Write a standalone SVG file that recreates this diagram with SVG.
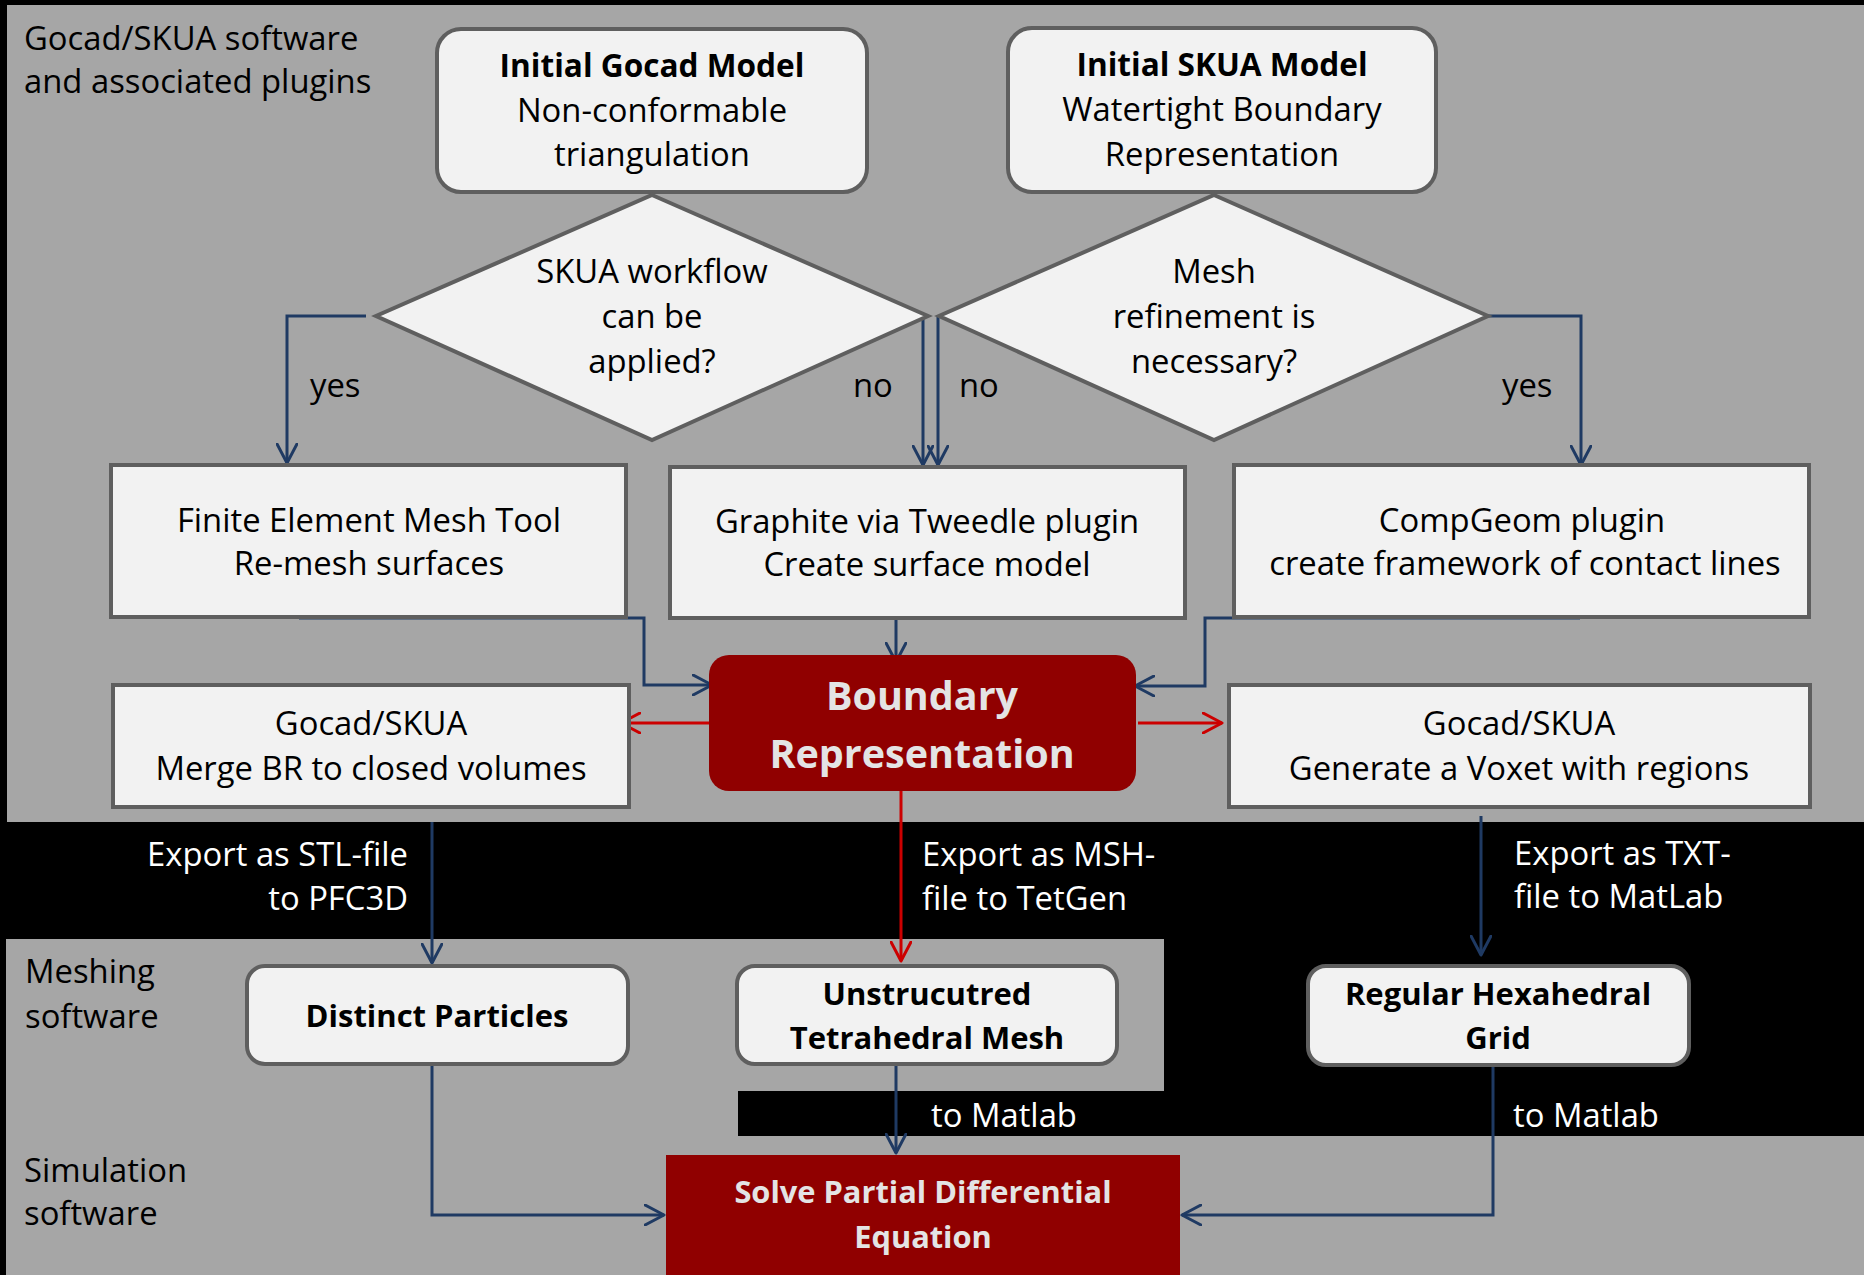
<svg xmlns="http://www.w3.org/2000/svg" width="1864" height="1275" viewBox="0 0 1864 1275">
<style>
text{font-family:"Open Sans","Liberation Sans",sans-serif;font-size:32.8px;fill:#000}
.c{text-anchor:middle}
.b{font-weight:bold;font-size:31px}
.bt{font-size:31.6px}
.w{fill:#fff}
.box{fill:#f2f2f2;stroke:#5f5f5f;stroke-width:4}
.red{fill:#900000}
.lt{fill:#e4e4e4}
.bl{fill:none;stroke:#1f3a63;stroke-width:3;marker-end:url(#ab)}
.rd{fill:none;stroke:#cc0000;stroke-width:3;marker-end:url(#ar)}
</style>
<defs>
<marker id="ab" viewBox="0 0 22 22" refX="20" refY="11" markerWidth="22" markerHeight="22" markerUnits="userSpaceOnUse" orient="auto"><path d="M1,1 L20,11 L1,21" fill="none" stroke="#1f3a63" stroke-width="3" stroke-linecap="round" stroke-linejoin="round"/></marker>
<marker id="ar" viewBox="0 0 22 22" refX="20" refY="11" markerWidth="22" markerHeight="22" markerUnits="userSpaceOnUse" orient="auto"><path d="M1,1 L20,11 L1,21" fill="none" stroke="#cc0000" stroke-width="3" stroke-linecap="round" stroke-linejoin="round"/></marker>
</defs>
<rect x="0" y="0" width="1864" height="1275" fill="#000"/>
<rect x="7" y="5" width="1857" height="817" fill="#a6a6a6"/>
<path d="M6,939 H1164 V1091 H738 V1136 H1864 V1275 H6 Z" fill="#a6a6a6"/>

<g id="labels">
<text x="24" y="50">Gocad/SKUA software</text>
<text x="24" y="93">and associated plugins</text>
<text x="25" y="983">Meshing</text>
<text x="25" y="1028">software</text>
<text x="24" y="1182">Simulation</text>
<text x="24" y="1225">software</text>
<text class="w" x="408" y="866" text-anchor="end">Export as STL-file</text>
<text class="w" x="408" y="910" text-anchor="end">to PFC3D</text>
<text class="w" x="922" y="866">Export as MSH-</text>
<text class="w" x="922" y="910">file to TetGen</text>
<text class="w" x="1514" y="865">Export as TXT-</text>
<text class="w" x="1514" y="908">file to MatLab</text>
<text class="w" x="931" y="1127">to Matlab</text>
<text class="w" x="1513" y="1127">to Matlab</text>
<text x="310" y="397">yes</text>
<text x="853" y="397">no</text>
<text x="959" y="397">no</text>
<text x="1502" y="397">yes</text>
</g>

<g id="connectors">
<path class="bl" d="M366,316 H287 V463"/>
<path class="bl" d="M923,316 V465"/>
<path class="bl" d="M938,316 V465"/>
<path class="bl" d="M1488,316 H1581 V465"/>
<path class="bl" d="M299,618 H644 V685 H712"/>
<path class="bl" d="M896,618 V662"/>
<path class="bl" d="M1580,618 H1205 V686 H1135"/>
<path class="rd" d="M709,723 H621"/>
<path class="rd" d="M1138,723 H1222"/>
<path class="rd" d="M901,790 V961"/>
<path class="bl" d="M432,822 V963"/>
<path class="bl" d="M1481,816 V955"/>
<path class="bl" d="M432,1064 V1215 H664"/>
<path class="bl" d="M896,1064 V1153"/>
<path class="bl" d="M1493,1065 V1215 H1182"/>
</g>

<g id="initial-gocad">
<rect class="box" x="437" y="29" width="430" height="163" rx="24"/>
<text class="c b bt" x="652" y="77">Initial Gocad Model</text>
<text class="c" x="652" y="122">Non-conformable</text>
<text class="c" x="652" y="166">triangulation</text>
</g>
<g id="initial-skua">
<rect class="box" x="1008" y="28" width="428" height="164" rx="24"/>
<text class="c b bt" x="1222" y="76">Initial SKUA Model</text>
<text class="c" x="1222" y="121">Watertight Boundary</text>
<text class="c" x="1222" y="166">Representation</text>
</g>
<g id="decision-skua">
<polygon class="box" points="652,195 928,316 652,440 376,316"/>
<text class="c" x="652" y="283">SKUA workflow</text>
<text class="c" x="652" y="328">can be</text>
<text class="c" x="652" y="373">applied?</text>
</g>
<g id="decision-refine">
<polygon class="box" points="1214,195 1488,316 1214,440 939,316"/>
<text class="c" x="1214" y="283">Mesh</text>
<text class="c" x="1214" y="328">refinement is</text>
<text class="c" x="1214" y="373">necessary?</text>
</g>
<g id="fem-tool">
<rect class="box" x="111" y="465" width="515" height="152"/>
<text class="c" x="369" y="532">Finite Element Mesh Tool</text>
<text class="c" x="369" y="575">Re-mesh surfaces</text>
</g>
<g id="graphite">
<rect class="box" x="670" y="467" width="515" height="151"/>
<text class="c" x="927" y="533">Graphite via Tweedle plugin</text>
<text class="c" x="927" y="576">Create surface model</text>
</g>
<g id="compgeom">
<rect class="box" x="1234" y="465" width="575" height="152"/>
<text class="c" x="1522" y="532">CompGeom plugin</text>
<text class="c" x="1525" y="575">create framework of contact lines</text>
</g>
<g id="boundary-rep">
<rect class="red" x="709" y="655" width="427" height="136" rx="20"/>
<text class="c b lt" x="922" y="710" style="font-size:39.5px">Boundary</text>
<text class="c b lt" x="922" y="768" style="font-size:39.5px">Representation</text>
</g>
<g id="merge">
<rect class="box" x="113" y="685" width="516" height="122"/>
<text class="c" x="371" y="735">Gocad/SKUA</text>
<text class="c" x="371" y="780">Merge BR to closed volumes</text>
</g>
<g id="voxet">
<rect class="box" x="1229" y="685" width="581" height="122"/>
<text class="c" x="1519" y="735">Gocad/SKUA</text>
<text class="c" x="1519" y="780">Generate a Voxet with regions</text>
</g>
<g id="particles">
<rect class="box" x="247" y="966" width="381" height="98" rx="18"/>
<text class="c b" x="437" y="1027">Distinct Particles</text>
</g>
<g id="tetmesh">
<rect class="box" x="737" y="966" width="380" height="98" rx="18"/>
<text class="c b" x="927" y="1005">Unstrucutred</text>
<text class="c b" x="927" y="1049">Tetrahedral Mesh</text>
</g>
<g id="hexgrid">
<rect class="box" x="1308" y="966" width="381" height="99" rx="18"/>
<text class="c b" x="1498" y="1005">Regular Hexahedral</text>
<text class="c b" x="1498" y="1049">Grid</text>
</g>
<g id="solve-pde">
<rect class="red" x="666" y="1155" width="514" height="125"/>
<text class="c b lt" x="923" y="1203" style="font-size:30.8px">Solve Partial Differential</text>
<text class="c b lt" x="923" y="1248" style="font-size:30.8px">Equation</text>
</g>
</svg>
